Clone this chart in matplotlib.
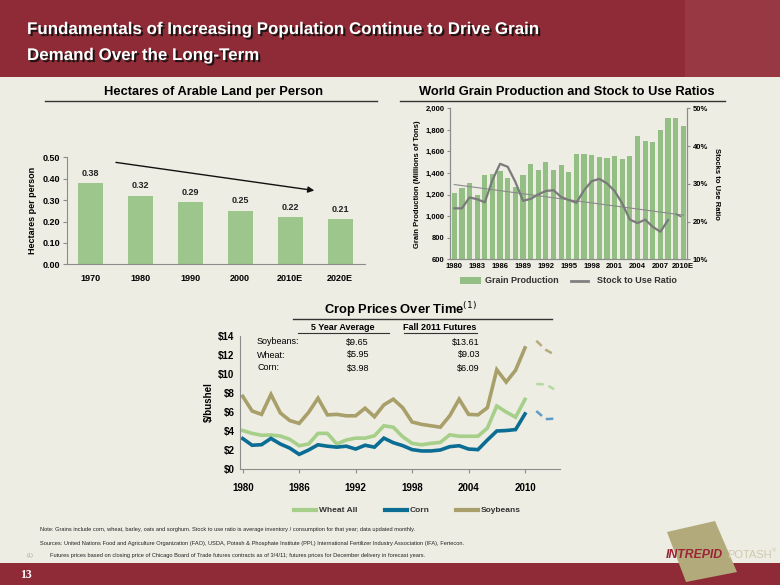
import matplotlib
matplotlib.use('Agg')
import matplotlib.pyplot as plt
import matplotlib.patheffects as pe
from matplotlib.patches import Rectangle, Polygon
from matplotlib.ticker import FuncFormatter

W, H = 780, 585

# ---- data ----
land_years = ['1970', '1980', '1990', '2000', '2010E', '2020E']
land_ha = [0.38, 0.32, 0.29, 0.25, 0.22, 0.21]

grain_years = list(range(1980, 2011))
grain_labels = ['1980', '1983', '1986', '1989', '1992', '1995', '1998', '2001', '2004', '2007', '2010E']
grain_prod = [1215, 1262, 1305, 1200, 1378, 1393, 1418, 1350, 1268, 1383, 1482, 1428, 1503, 1430, 1470, 1410,
              1575, 1575, 1563, 1550, 1535, 1562, 1528, 1555, 1745, 1698, 1686, 1798, 1908, 1908, 1840]
stock_years = list(range(1980, 2009))
stock_ratio = [23.5, 23.5, 26.4, 25.9, 25.1, 31.0, 35.3, 34.5, 30.5, 25.5, 26.0, 27.2, 28.1, 28.3, 26.5,
               25.7, 25.0, 28.3, 30.7, 31.3, 30.1, 28.1, 24.8, 20.5, 19.6, 20.5, 18.6, 17.3, 20.4]
stock_years_late = [2009, 2010]
stock_ratio_late = [22.0, 21.0]
trend_years = [1980, 2010]
trend_ratio = [29.8, 21.7]

price_years = list(range(1980, 2011))
wheat = [4.05, 3.75, 3.55, 3.58, 3.47, 3.12, 2.45, 2.63, 3.75, 3.75, 2.63, 3.05, 3.25, 3.25, 3.5, 4.55,
         4.4, 3.4, 2.7, 2.55, 2.7, 2.8, 3.6, 3.45, 3.45, 3.45, 4.3, 6.63, 6.0, 5.45, 7.33]
corn = [3.2, 2.5, 2.56, 3.22, 2.63, 2.2, 1.54, 2.0, 2.55, 2.4, 2.3, 2.4, 2.1, 2.5, 2.3, 3.25, 2.77, 2.46,
        2.04, 1.9, 1.9, 2.0, 2.35, 2.45, 2.1, 2.04, 3.05, 4.0, 4.05, 4.15, 5.8]
soy = [7.65, 6.1, 5.75, 7.85, 5.9, 5.1, 4.8, 5.96, 7.45, 5.7, 5.75, 5.6, 5.6, 6.4, 5.5, 6.75, 7.35, 6.45,
       4.95, 4.7, 4.55, 4.4, 5.6, 7.35, 5.75, 5.7, 6.45, 10.45, 9.15, 10.4, 12.75]
price_ticks = [1980, 1986, 1992, 1998, 2004, 2010]
fut_years = [2011.2, 2012.2, 2013.1]
wheat_fut = [8.95, 8.9, 8.4]
corn_fut = [6.1, 5.25, 5.3]
soy_fut = [13.5, 12.55, 12.05]

avg_rows = ['Soybeans:', 'Wheat:', 'Corn:']
avg_5yr = ['$9.65', '$5.95', '$3.98']
avg_fut = ['$13.61', '$9.03', '$6.09']

BG = '#EDEDE3'
RED = '#8E2B36'
SANS = ['Liberation Sans', 'DejaVu Sans']
plt.rcParams['font.family'] = SANS

fig = plt.figure(figsize=(W / 100, H / 100), dpi=100)
fig.patch.set_facecolor(BG)

# overlay in pixel coordinates
ov = fig.add_axes([0, 0, 1, 1], zorder=0)
ov.set_xlim(0, W)
ov.set_ylim(H, 0)
ov.axis('off')

ov.add_patch(Rectangle((0, 0), W, 77, color=RED, lw=0))
ov.add_patch(Rectangle((685, 0), 95, 77, color='#A34955', lw=0, alpha=0.45))
ov.add_patch(Rectangle((0, 563), W, 22, color=RED, lw=0))

shadow = [pe.SimplePatchShadow(offset=(1.5, -1.5), shadow_rgbFace='#111111', alpha=0.9), pe.Normal()]
for txt, yb in [('Fundamentals of Increasing Population Continue to Drive Grain', 34),
                ('Demand Over the Long-Term', 60)]:
    ov.text(27, yb, txt, color='white', fontsize=12.2, fontweight='bold', va='baseline', path_effects=shadow)

# section titles
ov.text(213, 92, 'Hectares of Arable Land per Person', fontsize=9.3, fontweight='bold', ha='center', va='center')
ov.plot([45, 377], [101, 101], color='#333333', lw=1)
ov.text(567, 92, 'World Grain Production and Stock to Use Ratios', fontsize=9.3, fontweight='bold', ha='center', va='center')
ov.plot([400, 725], [101, 101], color='#333333', lw=1)
ov.text(400, 310, 'Crop Prices Over Time$^{(1)}$', fontsize=9.3, fontweight='bold', ha='center', va='center')
ov.plot([293, 552], [319, 319], color='#333333', lw=1)

# crop table
ov.text(343, 328, '5 Year Average', fontsize=6.5, fontweight='bold', ha='center', va='center')
ov.plot([298, 389], [333, 333], color='#333333', lw=0.8)
ov.text(440, 328, 'Fall 2011 Futures', fontsize=6.5, fontweight='bold', ha='center', va='center')
ov.plot([404, 477], [333, 333], color='#333333', lw=0.8)
for i, lab in enumerate(avg_rows):
    yy = 342 + i * 13
    ov.text(257, yy, lab, fontsize=6.5, va='center')
    ov.text(369, yy, avg_5yr[i], fontsize=6.5, va='center', ha='right')
    ov.text(480, yy, avg_fut[i], fontsize=6.5, va='center', ha='right')

# grain legend
ov.add_patch(Rectangle((460, 277), 21, 7, color='#93BF85', lw=0))
ov.text(485, 280.5, 'Grain Production', fontsize=6.5, fontweight='bold', va='center', color='#333333')
ov.plot([571, 588], [280.5, 280.5], color='#808080', lw=2)
ov.text(597, 280.5, 'Stock to Use Ratio', fontsize=6.5, fontweight='bold', va='center', color='#333333')

# crop legend
for x0, col, lab in [(294, '#A6CF8A', 'Wheat All'), (385, '#0B6D94', 'Corn'), (456, '#A89F6A', 'Soybeans')]:
    ov.plot([x0, x0 + 22], [510, 510], color=col, lw=3)
    ov.text(x0 + 25, 510, lab, fontsize=6, fontweight='bold', va='center', color='#333333')

# footnotes
ov.text(40, 529, 'Note: Grains include corn, wheat, barley, oats and sorghum. Stock to use ratio is average inventory / '
        'consumption for that year; data updated monthly.', fontsize=4.1, va='center', color='#222222')
ov.text(40, 543, 'Sources: United Nations Food and Agriculture Organization (FAO), USDA, Potash & Phosphate Institute (PPI,) '
        'International Fertilizer Industry Association (IFA), Fertecon.', fontsize=4.1, va='center',
        color='#222222', zorder=5)
ov.text(27, 556, '(1)', fontsize=4.1, va='center', color='#9AB08A')
ov.text(50, 556, 'Futures prices based on closing price of Chicago Board of Trade futures contracts as of 3/4/11; '
        'futures prices for December delivery in forecast years.', fontsize=4.1, va='center', color='#222222')

# logo
ov.add_patch(Polygon([(667, 532), (715, 521), (737, 572), (686, 582)], closed=True, color='#B2AA7A', lw=0, zorder=3))
ov.text(666, 555, 'INTREPID', fontsize=8.8, fontweight='bold', style='italic', color='#9B2335', va='center', zorder=4)
ov.text(727, 555, 'POTASH', fontsize=8, color='#CFC9AE', va='center', zorder=4)
ov.text(772, 551, '\u00ae', fontsize=4, color='#CFC9AE', va='center', zorder=4)
ov.text(20, 575, '13', fontsize=8.5, fontweight='bold', family=['Liberation Serif', 'DejaVu Serif'],
        color='white', va='center')


def add_ax(left, top, right, bottom):
    a = fig.add_axes([left / W, 1 - bottom / H, (right - left) / W, (bottom - top) / H], zorder=2)
    a.set_facecolor('none')
    return a


# ---- chart 1: arable land ----
ax1 = add_ax(66.7, 157.3, 365, 264.3)
x1 = range(len(land_years))
ax1.bar(x1, land_ha, width=0.5, color='#9CC68B')
for xi, v in zip(x1, land_ha):
    ax1.text(xi, v + 0.025, f'{v:.2f}', ha='center', va='bottom', fontsize=6.5, fontweight='bold', color='#222222')
ax1.set_xlim(-0.47, 5.5)
ax1.set_ylim(0, 0.5)
ax1.set_yticks([0, 0.1, 0.2, 0.3, 0.4, 0.5])
ax1.yaxis.set_major_formatter(FuncFormatter(lambda v, p: f'{v:.2f}'))
ax1.set_xticks(list(x1))
ax1.set_xticklabels(land_years)
ax1.set_ylabel('Hectares per person', fontsize=6.5, fontweight='bold', labelpad=4)
ax1.annotate('', xy=(4.54, 0.343), xytext=(0.46, 0.478),
             arrowprops=dict(arrowstyle='-|>', color='#111111', lw=1, mutation_scale=9))
for s in ['top', 'right']:
    ax1.spines[s].set_visible(False)
for s in ['left', 'bottom']:
    ax1.spines[s].set_color('#8C8C8C')
ax1.tick_params(axis='y', length=3, color='#8C8C8C', labelsize=6.5, pad=2)
ax1.tick_params(axis='x', length=0, labelsize=6.5, pad=7)
for t in ax1.get_xticklabels() + ax1.get_yticklabels():
    t.set_fontweight('bold')

# ---- chart 2: grain production ----
ax2 = add_ax(450, 108.3, 687, 259.3)
xg = range(len(grain_years))
ax2.bar(xg, grain_prod, width=0.68, color='#93BF85')
ax2.set_xlim(-0.56, 30.48)
ax2.set_ylim(600, 2000)
ax2.set_yticks(range(600, 2001, 200))
ax2.yaxis.set_major_formatter(FuncFormatter(lambda v, p: f'{int(v):,}'))
ax2.set_xticks(range(0, 31, 3))
ax2.set_xticklabels(grain_labels)
ax2.set_ylabel('Grain Production (Millions of Tons)', fontsize=5.5, fontweight='bold', labelpad=3)
ax2b = ax2.twinx()
ax2b.set_ylim(10, 50)
ax2b.set_yticks([10, 20, 30, 40, 50])
ax2b.yaxis.set_major_formatter(FuncFormatter(lambda v, p: f'{int(v)}%'))
ax2b.plot([y - 1980 for y in trend_years], trend_ratio, color='#8A8A8A', lw=0.8)
ax2b.plot([y - 1980 for y in stock_years], stock_ratio, color='#7A7A7A', lw=1.6)
ax2b.plot([y - 1980 for y in stock_years_late], stock_ratio_late, color='#7A7A7A', lw=1.2, ls='--')
ax2b.set_ylabel('Stocks to Use Ratio', fontsize=5.5, fontweight='bold', rotation=270, labelpad=9)
for a in (ax2, ax2b):
    a.spines['top'].set_visible(False)
    for s in ['left', 'right', 'bottom']:
        a.spines[s].set_color('#8C8C8C')
    a.tick_params(axis='y', length=2, color='#8C8C8C', labelsize=5.5, pad=2)
    a.tick_params(axis='x', length=0, labelsize=5.5, pad=3)
    for t in a.get_xticklabels() + a.get_yticklabels():
        t.set_fontweight('bold')

# ---- chart 3: crop prices ----
ax3 = add_ax(240, 336, 560, 469)
ax3.plot(price_years, soy, color='#A89F6A', lw=2.6, solid_joinstyle='miter')
ax3.plot(price_years, wheat, color='#A6CF8A', lw=2.6, solid_joinstyle='miter')
ax3.plot(price_years, corn, color='#0B6D94', lw=2.6, solid_joinstyle='miter')
ax3.plot(fut_years, soy_fut, color='#B5AC7C', lw=1.8, ls=(0, (3, 2)))
ax3.plot(fut_years, wheat_fut, color='#B5D9A0', lw=1.8, ls=(0, (3, 2)))
ax3.plot(fut_years, corn_fut, color='#5D9CC8', lw=1.8, ls=(0, (3, 2)))
ax3.set_xlim(1979.71, 2013.72)
ax3.set_ylim(0, 14)
ax3.set_yticks(range(0, 15, 2))
ax3.yaxis.set_major_formatter(FuncFormatter(lambda v, p: f'${int(v)}'))
ax3.set_xticks(price_ticks)
ax3.set_ylabel('$/bushel', fontsize=7, fontweight='bold', labelpad=3)
for s in ['top', 'right']:
    ax3.spines[s].set_visible(False)
for s in ['left', 'bottom']:
    ax3.spines[s].set_color('#8C8C8C')
ax3.tick_params(axis='y', length=0, labelsize=7, pad=4)
ax3.tick_params(axis='x', length=3, color='#8C8C8C', labelsize=7, pad=7)
for t in ax3.get_xticklabels() + ax3.get_yticklabels():
    t.set_fontweight('bold')

fig.savefig('out.png', dpi=100, facecolor=BG)
